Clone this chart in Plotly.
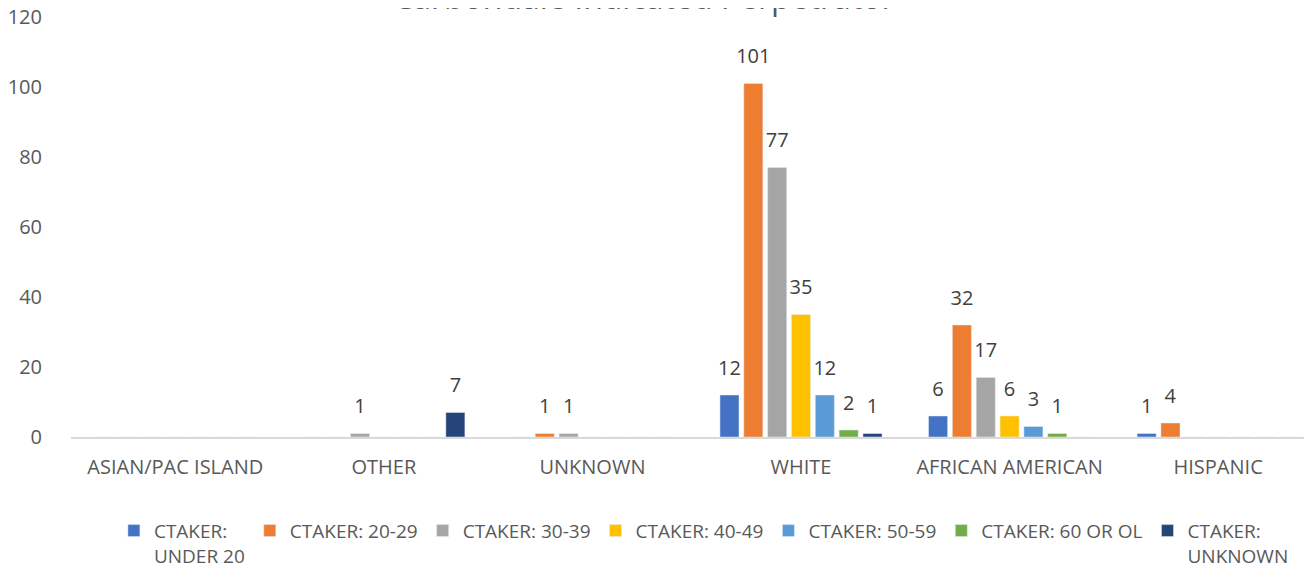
import plotly.graph_objects as go

categories = ["ASIAN/PAC ISLAND", "OTHER", "UNKNOWN", "WHITE", "AFRICAN AMERICAN", "HISPANIC"]
series_names = ["CTAKER:<br>UNDER 20", "CTAKER: 20-29", "CTAKER: 30-39", "CTAKER: 40-49",
                "CTAKER: 50-59", "CTAKER: 60 OR OL", "CTAKER:<br>UNKNOWN"]
under20 = [0, 0, 0, 12, 6, 1]
age20_29 = [0, 0, 1, 101, 32, 4]
age30_39 = [0, 1, 1, 77, 17, 0]
age40_49 = [0, 0, 0, 35, 6, 0]
age50_59 = [0, 0, 0, 12, 3, 0]
age60_ol = [0, 0, 0, 2, 1, 0]
unknown = [0, 7, 0, 1, 0, 0]
series_values = [under20, age20_29, age30_39, age40_49, age50_59, age60_ol, unknown]
colors = ["#4472C4", "#ED7D31", "#A5A5A5", "#FFC000", "#5B9BD5", "#70AD47", "#264478"]
y_ticks = [0, 20, 40, 60, 80, 100, 120]
title_text = "Carbondale Indicated Perpetrator"

FONT = "Open Sans"
FS = 20
LABEL_GAP = 3.2  # vertical gap (data units) between bar top and its value label

fig = go.Figure()
for i, (name, vals, col) in enumerate(zip(series_names, series_values, colors)):
    fig.add_trace(go.Bar(
        x=categories, y=vals, name=name, marker_color=col,
        offsetgroup=str(i), hoverinfo="skip",
    ))
    # invisible helper bar sitting on top of each bar, carrying the value label
    fig.add_trace(go.Bar(
        x=categories, y=[LABEL_GAP] * len(vals), base=vals,
        offsetgroup=str(i), showlegend=False, hoverinfo="skip",
        marker=dict(color="rgba(0,0,0,0)", line=dict(width=0)),
        text=[str(v) if v else "" for v in vals], textposition="outside",
        textangle=0, constraintext="none",
        textfont=dict(size=FS, color="#404040", family=FONT),
        cliponaxis=False,
    ))

fig.add_annotation(text=title_text, xref="paper", yref="paper", x=0.462, y=1.0,
                   xanchor="center", yanchor="middle", yshift=21, showarrow=False,
                   font=dict(size=32, color="#595959", family=FONT))

# page body has an 8px margin, so the figure is drawn 8px in from the top-left
fig.update_layout(
    width=1304, height=559,
    margin=dict(l=63, r=0, t=9, b=130, autoexpand=False),
    plot_bgcolor="white", paper_bgcolor="white",
    barmode="group", bargap=0.2, bargroupgap=0.2,
    font=dict(family=FONT, size=FS, color="#595959"),
    showlegend=True,
    legend=dict(orientation="h", x=0.51, xanchor="center", y=-0.178, yanchor="top",
                font=dict(size=19, color="#595959", family=FONT), itemwidth=30,
                traceorder="normal", valign="top"),
)
fig.update_xaxes(range=[-0.5, 5.45], showline=True, linecolor="#D9D9D9", linewidth=1.5,
                 ticks="", showgrid=False, ticklabelstandoff=11,
                 tickfont=dict(size=FS, color="#595959"))
fig.update_yaxes(range=[0, 120], tickvals=y_ticks, showgrid=False, zeroline=False,
                 showline=False, ticklabelstandoff=28, ticklabeloverflow="allow",
                 tickfont=dict(size=FS, color="#595959"))

fig.write_html(
    "out.html",
    config={"displayModeBar": False},
    post_script="document.querySelectorAll('.main-svg').forEach(function(s){s.style.overflow='visible';});",
)
